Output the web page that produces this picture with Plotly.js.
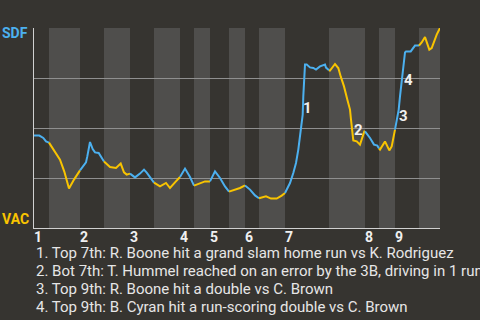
<!DOCTYPE html>
<html><head><meta charset="utf-8">
<script src="https://cdn.plot.ly/plotly-3.0.1.min.js"></script>
<style>html,body{margin:0;padding:0;background:#363430;}#chart{width:480px;height:320px;}</style>
</head><body><div id="chart"></div>
<script>
// Game progress (play index scale) and SDF win probability (%)
const progress = [0,5.3,9.3,12,15, 21,26,30.3,35,40,46, 48.7,52,53.3,56,58.7,61,64.7,67,70, 76,82,85.3,86.7,90,92.7,96, 101,106,110,112.7,117.7,120, 126,132,136,141,146, 151,156,160, 166,171,176, 181,186,191,195, 201,206,211, 216,221,225, 232,237,242.7,247.7,251, 256,259.3,262,264.3,266.7,268.7,269.3,270.3,271,272.7,276,279.3,282,286,291,292,295, 296,301,304.3,306.7,310,313.3,316,317,318.7,319.3,322.7,326,330.3,331, 336,340,343.3,345, 346,351,355.3,357.7,360,361, 362,363.3,364.7,366,367.7,369.3,371,372,376.7,381,385, 387.7,391,395.3,397.7,401,402.7,406];
const sdfWinPct = [46.2,46.2,45,43.3,42.7, 38.2,34.2,28.2,19.7,24.2,28.8, 30.8,32.8,35.8,43,39.5,37.8,37.5,35.8,33.2, 30.5,30,31.7,32.2,27.8,26.7,27.2, 25.3,27.2,29.2,27.7,24.2,22.7, 20.8,22.5,20,22.8,25.5, 29.7,25.5,21.2, 22.5,23.3,23.3, 28.3,25,20.8,18.2, 19.2,20,21.3, 19.2,16.3,14.9, 15.8,14.7,14.7,16.2,17.5, 22.5,27.5,32.5,39.2,47.5,56.7,65.8,74.2,81.7,81.7,80.3,80,79.2,80.8,81.7,80.2,78.9, 78.7,82,80,75.8,70.8,64.2,59.2,54.2,46.7,43.8,43.3,41.7,48.3,48.3, 45,41.7,41.2,39.7, 39.2,43.3,38.8,40.8,47.5,49.2, 51.7,54.2,59.2,65.8,74.2,79.2,87.8,88.3,88.3,91.2,91.2, 92.8,95.5,89.2,90,95,96.7,100];
// Half-inning boundaries (top 1st start ... end of game)
const halfStarts = [0,15,46,70,96,120,146,160,176,195,211,225,251,295,331,345,361,385,406];
const innings = ['1','2','3','4','5','6','7','8','9'];
const teams = {away:'SDF', home:'VAC'};
const eventLabels = ['1','2','3','4'];
const eventX = [273.7,324.3,369.3,374.3];
const eventY = [60.2,48.8,55.8,74.2];
const notes = [
 '1. Top 7th: R. Boone hit a grand slam home run vs K. Rodriguez',
 '2. Bot 7th: T. Hummel reached on an error by the 3B, driving in 1 run',
 '3. Top 9th: R. Boone hit a double vs C. Brown',
 '4. Top 9th: B. Cyran hit a run-scoring double vs C. Brown'
];

const BLUE = '#4cb0ef', YELLOW = '#f9c400', BG = '#363430', BAND = '#4f4e4c';

const traces = [];
const shapes = [];
for (let h = 0; h < halfStarts.length - 1; h++) {
  const a = halfStarts[h], b = halfStarts[h+1];
  const xs = [], ys = [];
  progress.forEach((x, i) => { if (x >= a && x <= b) { xs.push(x); ys.push(sdfWinPct[i]); } });
  traces.push({x: xs, y: ys, type: 'scatter', mode: 'lines', cliponaxis: false,
    line: {color: h % 2 === 0 ? BLUE : YELLOW, width: 2}, hoverinfo: 'skip', showlegend: false});
  if (h % 2 === 1) {
    shapes.push({type: 'rect', xref: 'x', yref: 'paper', x0: a, x1: b, y0: 0, y1: 1,
      fillcolor: BAND, line: {width: 0}, layer: 'below'});
  }
}
const tickvals = halfStarts.filter((_, i) => i % 2 === 0 && i < halfStarts.length - 1);

const annotations = [];
annotations.push({xref:'paper', yref:'paper', x:0, y:0.974, xanchor:'right', yanchor:'middle', xshift:-4,
  text: teams.away, showarrow:false, font:{family:'Roboto', size:14, color:BLUE, weight:'bold'}});
annotations.push({xref:'paper', yref:'paper', x:0, y:0.044, xanchor:'right', yanchor:'middle', xshift:-3,
  text: teams.home, showarrow:false, font:{family:'Roboto', size:14, color:YELLOW, weight:'bold'}});
eventLabels.forEach((t, i) => annotations.push({x: eventX[i], y: eventY[i], xref:'x', yref:'y', text: t,
  showarrow:false, xanchor:'center', yanchor:'middle', font:{family:'Roboto', size:15, color:'#f0f0f0', weight:'bold'}}));
const noteY = [-0.125, -0.217, -0.305, -0.395];
notes.forEach((t, i) => annotations.push({xref:'paper', yref:'paper', x:0, y:noteY[i], xanchor:'left', yanchor:'middle',
  xshift:0, text: t, showarrow:false, font:{family:'Roboto', size:15, color:'#e6e6e6'}}));

const layout = {
  width: 480, height: 320,
  margin: {l: 34, r: 40, t: 28, b: 92, pad: 0},
  paper_bgcolor: BG, plot_bgcolor: BG,
  showlegend: false,
  xaxis: {range: [0, 406], tickvals: tickvals, ticktext: innings, ticks: '', ticklen: 0, showgrid: false, zeroline: false,
    showline: true, linecolor: '#d0d0d0', linewidth: 1, ticklabelshift: 4, ticklabelstandoff: -4,
    tickfont: {family: 'Roboto', size: 14, color: '#f0f0f0', weight: 'bold'}, fixedrange: true},
  yaxis: {range: [0, 100], tickvals: [25, 50, 75, 100], showticklabels: false, ticks: '', showgrid: true,
    gridcolor: '#8f8f8f', gridwidth: 1, zeroline: false, showline: true, linecolor: '#d0d0d0', linewidth: 1, fixedrange: true},
  shapes: shapes,
  annotations: annotations
};
Plotly.newPlot('chart', traces, layout, {displayModeBar: false, staticPlot: true});
</script></body></html>
